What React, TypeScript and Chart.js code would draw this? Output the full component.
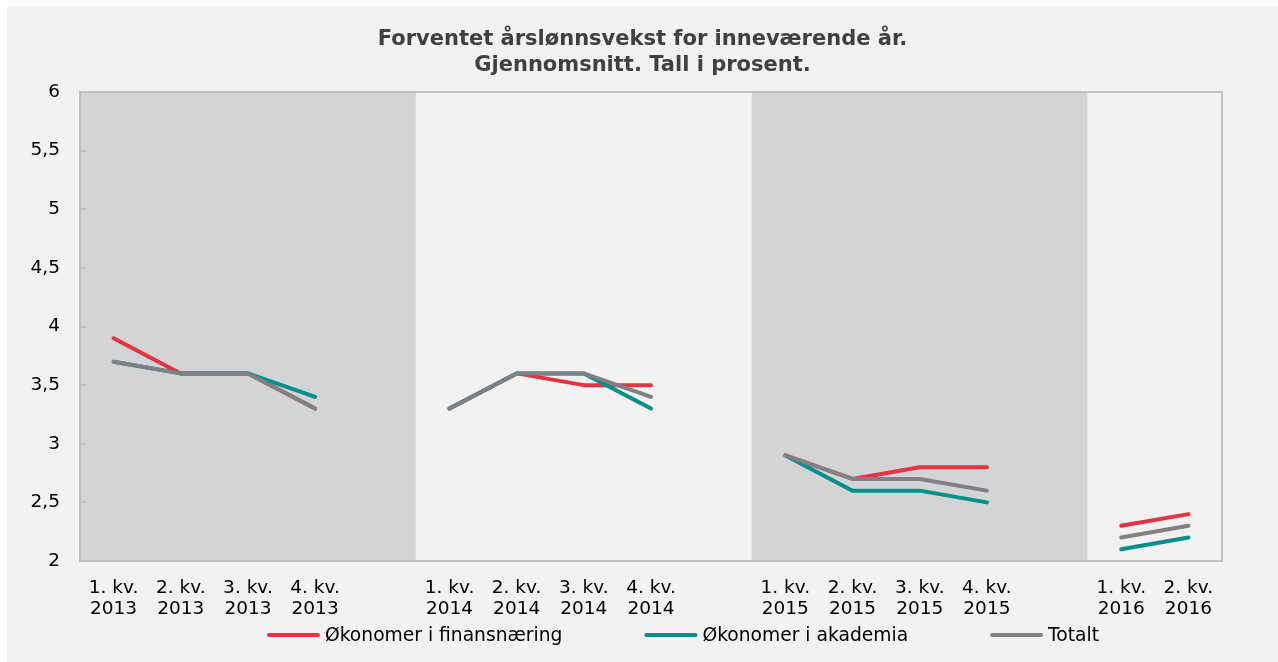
import { useEffect, useRef } from 'react';
import { Chart, registerables } from 'chart.js';

Chart.register(...registerables);

const categories: string[][] = [
  ['1. kv.', '2013'], ['2. kv.', '2013'], ['3. kv.', '2013'], ['4. kv.', '2013'], [''],
  ['1. kv.', '2014'], ['2. kv.', '2014'], ['3. kv.', '2014'], ['4. kv.', '2014'], [''],
  ['1. kv.', '2015'], ['2. kv.', '2015'], ['3. kv.', '2015'], ['4. kv.', '2015'], [''],
  ['1. kv.', '2016'], ['2. kv.', '2016'],
];

const finans = [3.9, 3.6, 3.6, 3.3, null, 3.3, 3.6, 3.5, 3.5, null, 2.9, 2.7, 2.8, 2.8, null, 2.3, 2.4];
const akademia = [3.7, 3.6, 3.6, 3.4, null, 3.3, 3.6, 3.6, 3.3, null, 2.9, 2.6, 2.6, 2.5, null, 2.1, 2.2];
const totalt = [3.7, 3.6, 3.6, 3.3, null, 3.3, 3.6, 3.6, 3.4, null, 2.9, 2.7, 2.7, 2.6, null, 2.2, 2.3];

const seriesNames = ['Økonomer i finansnæring', 'Økonomer i akademia', 'Totalt'];
const seriesColors = ['#e63241', '#00908c', '#808184'];

const titleLines = ['Forventet årslønnsvekst for inneværende år.', 'Gjennomsnitt. Tall i prosent.'];

const yMin = 2;
const yMax = 6;
const yStep = 0.5;

// year bands: first and last category index of each band
const bandStart = [0, 5, 10, 15];
const bandEnd = [4, 9, 14, 16];
const bandColors = ['#d3d4d6', '#f2f2f2', '#d3d4d6', '#f2f2f2'];

const FONT = '"DejaVu Sans", Verdana, sans-serif';

const bandPlugin = {
  id: 'bands',
  beforeDraw(chart: any) {
    const { ctx, chartArea } = chart;
    const y = chart.scales.y;
    const n = categories.length;
    const w = (chartArea.right - chartArea.left) / n;
    ctx.save();
    for (let i = 0; i < bandStart.length; i++) {
      const x0 = chartArea.left + bandStart[i] * w;
      const x1 = chartArea.left + (bandEnd[i] + 1) * w;
      ctx.fillStyle = bandColors[i];
      ctx.fillRect(x0, chartArea.top, x1 - x0, chartArea.bottom - chartArea.top);
    }
    ctx.strokeStyle = '#c0c0c0';
    ctx.lineWidth = 2;
    ctx.strokeRect(chartArea.left, chartArea.top, chartArea.right - chartArea.left, chartArea.bottom - chartArea.top);
    // inward tick marks on y axis
    ctx.beginPath();
    y.ticks.forEach((t: any) => {
      const py = Math.round(y.getPixelForValue(t.value));
      ctx.moveTo(chartArea.left, py);
      ctx.lineTo(chartArea.left + 6, py);
    });
    ctx.stroke();
    ctx.restore();
  },
};

const legendPlugin = {
  id: 'customLegend',
  afterDraw(chart: any) {
    const { ctx } = chart;
    ctx.save();
    ctx.font = `18.7px ${FONT}`;
    ctx.textBaseline = 'middle';
    ctx.textAlign = 'left';
    const lineLen = 53;
    const gap = 5;
    const spacing = 82;
    const cy = 629;
    let cx = 260;
    chart.data.datasets.forEach((ds: any) => {
      ctx.strokeStyle = ds.borderColor;
      ctx.lineWidth = 4;
      ctx.lineCap = 'round';
      ctx.beginPath();
      ctx.moveTo(cx + 2, cy);
      ctx.lineTo(cx + lineLen - 2, cy);
      ctx.stroke();
      ctx.fillStyle = '#000';
      ctx.fillText(ds.label, cx + lineLen + gap, cy + 1);
      cx += lineLen + gap + ctx.measureText(ds.label).width + spacing;
    });
    ctx.restore();
  },
};

export default function App() {
  const ref = useRef<HTMLCanvasElement>(null);

  useEffect(() => {
    if (!ref.current) return;
    const mk = (i: number, data: (number | null)[], order: number) => ({
      label: seriesNames[i],
      data,
      borderColor: seriesColors[i],
      backgroundColor: seriesColors[i],
      borderWidth: 4,
      borderCapStyle: 'round',
      borderJoinStyle: 'round',
      pointRadius: 0,
      pointHoverRadius: 0,
      tension: 0,
      spanGaps: false,
      fill: false,
      order,
    });
    const chart = new Chart(ref.current, {
      type: 'line',
      data: {
        labels: categories,
        datasets: [mk(0, finans, 2), mk(1, akademia, 1), mk(2, totalt, 0)] as any,
      },
      plugins: [bandPlugin, legendPlugin],
      options: {
        responsive: false,
        animation: false,
        layout: { padding: { left: 0, right: 0, top: 0, bottom: 41 } },
        plugins: {
          legend: { display: false },
          tooltip: { enabled: false },
          title: {
            display: true,
            text: titleLines,
            color: '#404040',
            font: { family: FONT, size: 21, weight: 'bold', lineHeight: 26 / 21 },
            padding: { top: 21, bottom: 13 },
          },
        },
        scales: {
          x: {
            type: 'category',
            offset: true,
            grid: { display: false, drawTicks: false },
            border: { display: false },
            ticks: {
              color: '#000',
              font: { family: FONT, size: 18.5, lineHeight: 21 / 18.5 },
              padding: 17,
              maxRotation: 0,
              minRotation: 0,
              autoSkip: false,
            },
            afterFit(scale: any) {
              scale.height = 60;
            },
          },
          y: {
            min: yMin,
            max: yMax,
            grid: { display: false, drawTicks: false },
            border: { display: false },
            ticks: {
              stepSize: yStep,
              color: '#000',
              font: { family: FONT, size: 18.5 },
              padding: 20,
              callback: (v: any) => String(v).replace('.', ','),
            },
            afterFit(scale: any) {
              scale.width = 73;
            },
          },
          yRight: {
            type: 'linear',
            position: 'right',
            min: yMin,
            max: yMax,
            grid: { display: false, drawTicks: false },
            border: { display: false },
            ticks: { display: false },
            afterFit(scale: any) {
              scale.width = 56;
            },
          },
        },
      } as any,
    });
    return () => chart.destroy();
  }, []);

  return (
    <div
      style={{
        position: 'fixed',
        left: 7,
        top: 6,
        width: 1271,
        height: 656,
        background: '#f2f2f2',
      }}
    >
      <canvas ref={ref} width={1271} height={656} style={{ display: 'block', width: 1271, height: 656 }} />
    </div>
  );
}
